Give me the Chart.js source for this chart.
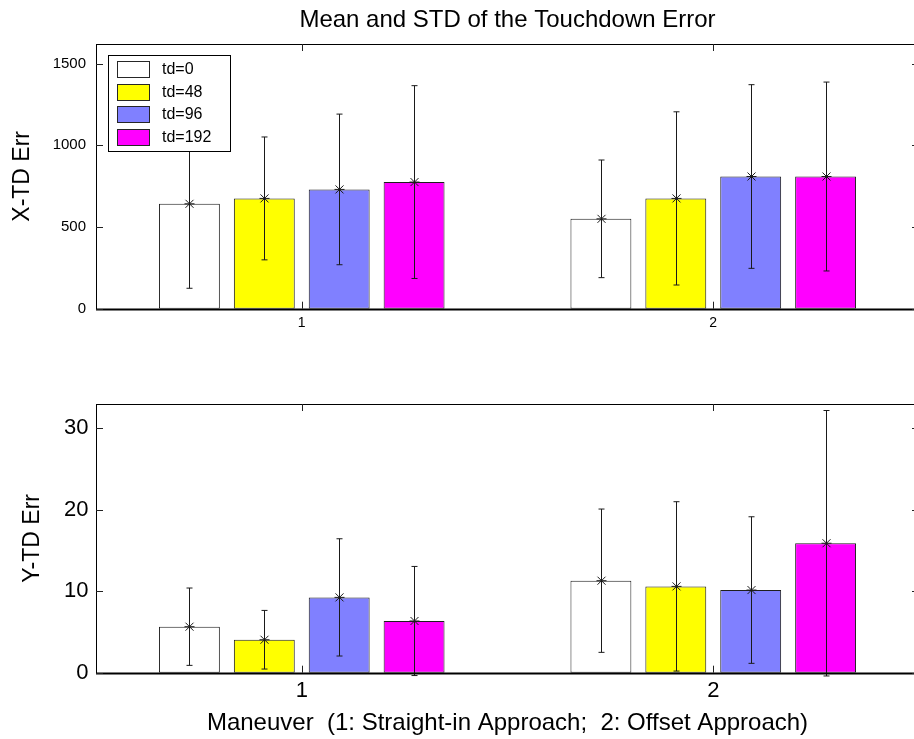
<!DOCTYPE html>
<html><head><meta charset="utf-8">
<script src="https://cdn.jsdelivr.net/npm/chart.js@4.4.1/dist/chart.umd.min.js"></script>
<style>
html,body{margin:0;padding:0;background:#fff;overflow:hidden;}
#wrap{position:relative;width:914px;height:739px;overflow:hidden;background:#fff;}
#c1wrap{position:absolute;left:0;top:0;width:930px;height:365px;}
#c2wrap{position:absolute;left:0;top:365px;width:930px;height:374px;}
canvas{display:block;}
</style></head><body>
<div id="wrap">
<div id="c1wrap"><canvas id="c1" width="930" height="365"></canvas></div>
<div id="c2wrap"><canvas id="c2" width="930" height="374"></canvas></div>
</div>
<script>
const FONT = "'Liberation Sans', Arial, Helvetica, sans-serif";

// categories and series
const maneuvers = ['1', '2'];
const seriesLabels = ['td=0', 'td=48', 'td=96', 'td=192'];
const seriesColors = ['#FFFFFF', '#FFFF00', '#8080FF', '#FF00FF'];

// X-TD error: mean and std per series (maneuver 1, maneuver 2)
const xMeanTd0 = [642, 550];
const xMeanTd48 = [675, 675];
const xMeanTd96 = [730, 809];
const xMeanTd192 = [775, 809];
const xStdTd0 = [517, 360];
const xStdTd48 = [376, 530];
const xStdTd96 = [461, 562];
const xStdTd192 = [590, 578];

// Y-TD error: mean and std per series (maneuver 1, maneuver 2)
const yMeanTd0 = [5.65, 11.3];
const yMeanTd48 = [4.05, 10.6];
const yMeanTd96 = [9.25, 10.15];
const yMeanTd192 = [6.35, 15.9];
const yStdTd0 = [4.75, 8.8];
const yStdTd48 = [3.6, 10.4];
const yStdTd96 = [7.2, 9.0];
const yStdTd192 = [6.7, 16.3];

// tick labels
const xErrTicks = [0, 500, 1000, 1500];
const yErrTicks = [0, 10, 20, 30];

const titleText = 'Mean and STD of the Touchdown Error';
const xErrLabel = 'X-TD Err';
const yErrLabel = 'Y-TD Err';
const maneuverLabel = 'Maneuver  (1: Straight-in Approach;  2: Offset Approach)';

function makeDatasets(means, stds) {
  return seriesLabels.map((lab, i) => ({
    label: lab,
    data: means[i],
    errStd: stds[i],
    backgroundColor: seriesColors[i],
    borderColor: '#1e1e1e',
    borderWidth: 1,
    borderSkipped: false,
    categoryPercentage: 0.728,
    barPercentage: 0.813
  }));
}

const matlabPlugin = {
  id: 'matlab',
  afterDraw(chart, args, opts) {
    const ctx = chart.ctx;
    const ca = chart.chartArea;
    const ys = chart.scales.y, xs = chart.scales.x;
    ctx.save();
    // error bars with asterisk markers
    ctx.strokeStyle = '#1a1a1a';
    ctx.lineWidth = 1;
    chart.data.datasets.forEach((ds, di) => {
      const meta = chart.getDatasetMeta(di);
      meta.data.forEach((bar, i) => {
        const m = ds.data[i], s = ds.errStd[i];
        const x = Math.round(bar.x) + 0.5;
        const yM = ys.getPixelForValue(m);
        const yL = ys.getPixelForValue(m - s);
        const yH = ys.getPixelForValue(m + s);
        ctx.beginPath();
        ctx.moveTo(x, yL); ctx.lineTo(x, yH);
        ctx.moveTo(x - 3, yL); ctx.lineTo(x + 3, yL);
        ctx.moveTo(x - 3, yH); ctx.lineTo(x + 3, yH);
        const r = 5, d = 4;
        ctx.moveTo(x - r, yM); ctx.lineTo(x + r, yM);
        ctx.moveTo(x, yM - r); ctx.lineTo(x, yM + r);
        ctx.moveTo(x - d, yM - d); ctx.lineTo(x + d, yM + d);
        ctx.moveTo(x - d, yM + d); ctx.lineTo(x + d, yM - d);
        ctx.stroke();
      });
    });
    // axes box
    ctx.strokeStyle = '#000';
    ctx.lineWidth = 1;
    ctx.strokeRect(Math.round(ca.left) + 0.5, Math.round(ca.top) + 0.5,
                   Math.round(ca.right - ca.left), Math.round(ca.bottom - ca.top));
    ctx.lineWidth = 2;
    ctx.beginPath();
    ctx.moveTo(ca.left, Math.round(ca.bottom) + 0.5);
    ctx.lineTo(ca.right, Math.round(ca.bottom) + 0.5);
    ctx.stroke();
    ctx.lineWidth = 1;
    // inward ticks
    const tl = 7;
    ctx.strokeStyle = '#222';
    ctx.beginPath();
    ys.ticks.forEach(t => {
      const y = Math.round(ys.getPixelForValue(t.value)) + 0.5;
      ctx.moveTo(ca.left, y); ctx.lineTo(ca.left + tl, y);
      ctx.moveTo(ca.right, y); ctx.lineTo(ca.right - tl, y);
    });
    xs.ticks.forEach((t, i) => {
      const x = Math.round(xs.getPixelForValue(i)) + 0.5;
      ctx.moveTo(x, ca.top); ctx.lineTo(x, ca.top + tl);
      ctx.moveTo(x, ca.bottom); ctx.lineTo(x, ca.bottom - tl);
    });
    ctx.stroke();
    // legend
    if (opts && opts.legend) {
      const bx = Math.round(ca.left + 11.5), by = Math.round(ca.top + 11);
      const bw = 122, bh = 96;
      ctx.fillStyle = '#fff';
      ctx.fillRect(bx, by, bw, bh);
      ctx.strokeStyle = '#000';
      ctx.strokeRect(bx + 0.5, by + 0.5, bw, bh);
      ctx.font = '16px ' + FONT;
      ctx.textBaseline = 'middle';
      ctx.textAlign = 'left';
      chart.data.datasets.forEach((ds, i) => {
        const cy = by + 14 + i * 22.5;
        ctx.fillStyle = ds.backgroundColor;
        ctx.fillRect(bx + 9, Math.round(cy - 8), 33, 17);
        ctx.strokeStyle = '#262626';
        ctx.strokeRect(bx + 9.5, Math.round(cy - 8) + 0.5, 32, 16);
        ctx.fillStyle = '#000';
        ctx.fillText(ds.label, bx + 54, cy + 1);
      });
    }
    ctx.restore();
  }
};

function baseOptions(cfg) {
  return {
    responsive: false,
    animation: false,
    events: [],
    layout: { padding: { left: 0, right: 11, top: cfg.padTop, bottom: 0 } },
    plugins: {
      legend: { display: false },
      tooltip: { enabled: false },
      title: cfg.title ? {
        display: true, text: cfg.title, fullSize: false, color: '#000',
        font: { family: FONT, size: 24, weight: 'normal' },
        padding: { top: 6.4, bottom: 8.8 }
      } : { display: false },
      matlab: { legend: cfg.legend }
    },
    scales: {
      x: {
        type: 'category', offset: true,
        grid: { display: false, drawTicks: false, tickLength: 0 },
        border: { display: false },
        ticks: { font: { family: FONT, size: cfg.xTickSize }, color: '#000', padding: cfg.xTickPad, maxRotation: 0 },
        title: cfg.xTitle ? {
          display: true, text: cfg.xTitle, color: '#000',
          font: { family: FONT, size: 24 }, padding: { top: 0, bottom: 1.6 }
        } : { display: false },
        afterFit(s) { s.height = cfg.xHeight; }
      },
      y: {
        min: 0, max: cfg.yMax,
        grid: { display: false, drawTicks: false, tickLength: 0 },
        border: { display: false },
        ticks: {
          font: { family: FONT, size: cfg.yTickSize }, color: '#000', padding: cfg.yTickPad,
          callback: v => String(v)
        },
        afterBuildTicks(s) { s.ticks = cfg.yTicks.map(v => ({ value: v })); },
        afterFit(s) { s.width = 96; },
        title: {
          display: true, text: cfg.yTitle, color: '#000',
          font: { family: FONT, size: 23 }, padding: { top: cfg.yTitlePad, bottom: 0 }
        }
      }
    }
  };
}

new Chart(document.getElementById('c1'), {
  type: 'bar',
  data: {
    labels: maneuvers,
    datasets: makeDatasets([xMeanTd0, xMeanTd48, xMeanTd96, xMeanTd192],
                           [xStdTd0, xStdTd48, xStdTd96, xStdTd192])
  },
  options: baseOptions({
    padTop: 0, title: titleText, legend: true, xTickSize: 14, yTickSize: 15, xTickPad: 6,
    yTickPad: 10, xHeight: 56.3, yMax: 1620, yTicks: xErrTicks, yTitle: xErrLabel, yTitlePad: 9
  }),
  plugins: [matlabPlugin]
});

new Chart(document.getElementById('c2'), {
  type: 'bar',
  data: {
    labels: maneuvers,
    datasets: makeDatasets([yMeanTd0, yMeanTd48, yMeanTd96, yMeanTd192],
                           [yStdTd0, yStdTd48, yStdTd96, yStdTd192])
  },
  options: baseOptions({
    padTop: 39, title: null, legend: false, xTickSize: 22, yTickSize: 22, xTickPad: 5,
    yTickPad: 7.5, xHeight: 66.3, yMax: 33, yTicks: yErrTicks, yTitle: yErrLabel, yTitlePad: 19.2,
    xTitle: maneuverLabel
  }),
  plugins: [matlabPlugin]
});
</script>
</body></html>
